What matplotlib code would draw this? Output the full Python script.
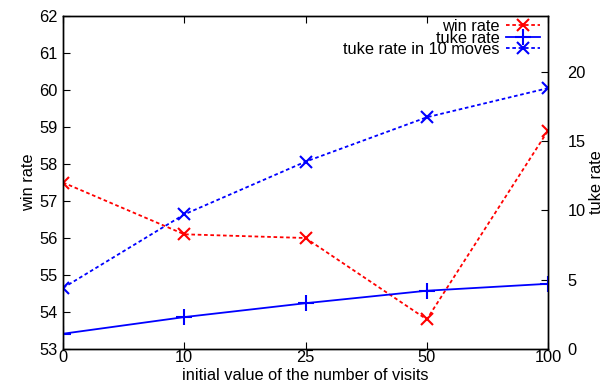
import matplotlib
matplotlib.use("Agg")
import matplotlib.pyplot as plt

plt.rcParams['font.family'] = ['Liberation Sans', 'DejaVu Sans']

visits = ["0", "10", "25", "50", "100"]
win_rate = [57.5, 56.1, 56.0, 53.8, 58.9]
tuke_rate = [1.1, 2.3, 3.3, 4.2, 4.7]
tuke_rate_10 = [4.4, 9.7, 13.5, 16.7, 18.8]

fig = plt.figure(figsize=(6.12, 3.85), dpi=100)
ax = fig.add_axes([63/612, 36/385, (548-63)/612, (349-16)/385])
ax2 = ax.twinx()

xs = list(range(len(visits)))
fs = 11.8

l1, = ax.plot(xs, win_rate, color='#ff0000', linestyle=(0, (2, 1.5)), linewidth=1.3,
              marker='x', markersize=9, markeredgewidth=1.5, label='win rate')
l2, = ax2.plot(xs, tuke_rate, color='#0000ff', linestyle='-', linewidth=1.3,
               marker='+', markersize=11, markeredgewidth=1.5, label='tuke rate')
l3, = ax2.plot(xs, tuke_rate_10, color='#0000ff', linestyle=(0, (2, 1.5)), linewidth=1.3,
               marker='x', markersize=9, markeredgewidth=1.5, label='tuke rate in 10 moves')

ax.set_xlim(0, len(visits) - 1)
ax.set_ylim(53, 62)
ax2.set_ylim(0, 24)
ax.set_xticks(xs)
ax.set_xticklabels(visits, fontsize=fs)
ax.set_yticks(range(53, 63))
ax.tick_params(axis='y', labelsize=fs, direction='in', length=5, right=False, pad=4)
ax.tick_params(axis='x', labelsize=fs, direction='in', length=5, top=True, pad=1)
ax2.set_yticks([0, 5, 10, 15, 20])
ax2.tick_params(axis='y', labelsize=fs, direction='in', length=5, pad=14)

ax.set_xlabel('initial value of the number of visits', fontsize=fs, labelpad=2)
ax.set_ylabel('win rate', fontsize=fs, labelpad=2)
ax2.set_ylabel('tuke rate', fontsize=fs, labelpad=2)

for a in (ax, ax2):
    for s in a.spines.values():
        s.set_linewidth(1.0)

leg = ax.legend(handles=[l1, l2, l3], loc='upper right', frameon=False, markerfirst=False,
                fontsize=fs, handlelength=2.1, handletextpad=0.4, labelspacing=-0.22,
                borderaxespad=0.0, bbox_to_anchor=(0.998, 1.01))
for t in leg.get_texts():
    t.set_ha('right')

fig.savefig('out.png', dpi=100)
